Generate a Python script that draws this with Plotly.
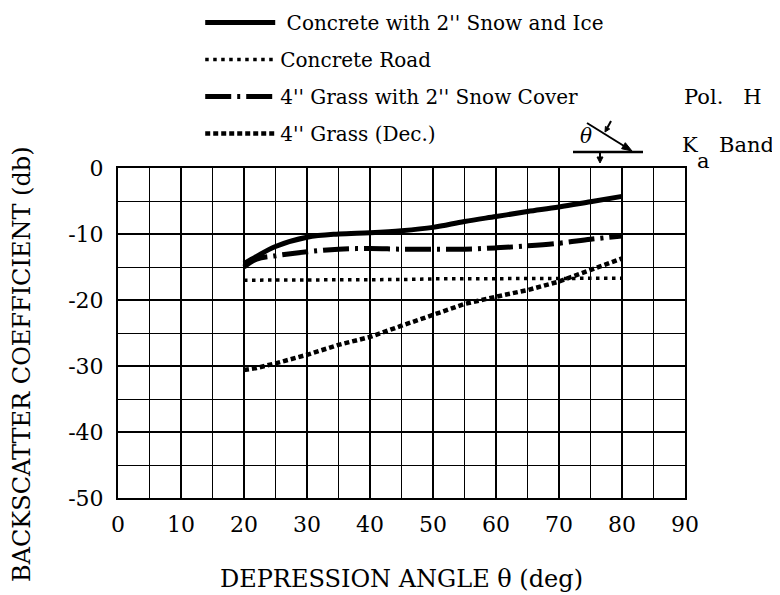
import plotly.graph_objects as go

angle = [20, 22, 25, 30, 35, 40, 45, 50, 55, 60, 65, 70, 75, 80]
concrete_snow_ice = [-14.5, -13.4, -11.9, -10.5, -10.0, -9.8, -9.5, -9.0, -8.1, -7.35, -6.6, -5.9, -5.1, -4.3]
grass_snow_cover = [-15.0, -13.8, -13.3, -12.7, -12.3, -12.2, -12.3, -12.3, -12.3, -12.1, -11.8, -11.4, -10.8, -10.3]
concrete_road = [-17.0, -17.0, -17.0, -17.0, -16.9, -16.9, -16.9, -16.8, -16.8, -16.8, -16.8, -16.8, -16.7, -16.7]
grass_dec = [-30.6, -30.3, -29.6, -28.3, -26.8, -25.6, -23.9, -22.3, -20.6, -19.5, -18.5, -17.2, -15.5, -13.7]

x_ticks = [0, 10, 20, 30, 40, 50, 60, 70, 80, 90]
x_tick_labels = ["0", "10", "20", "30", "40", "50", "60", "70", "80", "90"]
y_ticks = [0, -10, -20, -30, -40, -50]
y_tick_labels = ["0", "-10", "-20", "-30", "-40", "-50"]

FONT = "DejaVu Serif"

# plot area spans screen x 118..685, y 168..498
def px_x(p):
    return (p - 118) / 567

def px_y(p):
    return 1 + (168 - p) / 330

def tri_path(pts):
    s = "M {} {}".format(px_x(pts[0][0]), px_y(pts[0][1]))
    for p in pts[1:]:
        s += " L {} {}".format(px_x(p[0]), px_y(p[1]))
    return s + " Z"

fig = go.Figure()
fig.add_trace(go.Scatter(x=angle, y=concrete_snow_ice, mode="lines", name=" Concrete with 2'' Snow and Ice",
                         line=dict(color="black", width=5, shape="spline"), legendgroup="a"))
fig.add_trace(go.Scatter(x=angle, y=concrete_road, mode="lines", name="Concrete Road",
                         line=dict(color="black", width=3.5, dash="3.5px,4.5px"), legendgroup="b"))
fig.add_trace(go.Scatter(x=angle, y=grass_snow_cover, mode="lines", name="4'' Grass with 2'' Snow Cover",
                         line=dict(color="black", width=5, dash="26px,6px,3px,6px", shape="spline"), legendgroup="c"))
fig.add_trace(go.Scatter(x=angle, y=grass_dec, mode="lines", name="4'' Grass (Dec.)",
                         line=dict(color="black", width=4.5, dash="5px,3px"), legendgroup="d"))

fig.update_layout(
    width=780, height=595,
    margin=dict(l=110, r=103, t=160, b=105, autoexpand=False),
    paper_bgcolor="white", plot_bgcolor="white",
    font=dict(family=FONT, color="black", size=20),
    legend=dict(x=0.145, y=1.5, xanchor="left", yanchor="top", itemwidth=70,
                tracegroupgap=8, font=dict(family=FONT, size=20), bgcolor="rgba(0,0,0,0)"),
    showlegend=True,
)
fig.update_xaxes(range=[0, 90], tickvals=x_ticks, ticktext=x_tick_labels, showgrid=True,
                 gridcolor="black", gridwidth=1.6, minor=dict(dtick=5, showgrid=True, gridcolor="black", gridwidth=1.4),
                 showline=True, linecolor="black", linewidth=2, mirror=True, zeroline=False,
                 ticks="", ticklabelstandoff=6, tickfont=dict(family=FONT, size=22), automargin=False,
                 title=dict(text="DEPRESSION ANGLE \u03b8 (deg)", font=dict(family=FONT, size=24), standoff=34))
fig.update_yaxes(range=[-50, 0], tickvals=y_ticks, ticktext=y_tick_labels, showgrid=True,
                 gridcolor="black", gridwidth=1.6, minor=dict(dtick=5, showgrid=True, gridcolor="black", gridwidth=1.4),
                 showline=True, linecolor="black", linewidth=2, mirror=True, zeroline=False,
                 ticks="", ticklabelstandoff=8, tickfont=dict(family=FONT, size=22), automargin=False)

# y axis title (placed lower than the plot centre, as in the reference)
fig.add_annotation(xref="paper", yref="paper", x=px_x(22), y=px_y(364), text="BACKSCATTER COEFFICIENT (db)",
                   textangle=-90, showarrow=False, xanchor="center", yanchor="middle",
                   font=dict(family=FONT, size=24))

# Pol. H / Ka Band labels
fig.add_annotation(xref="paper", yref="paper", x=px_x(682), y=px_y(97), text="Pol.\u00a0\u00a0\u00a0H",
                   showarrow=False, xanchor="left", yanchor="middle", font=dict(family=FONT, size=21))
fig.add_annotation(xref="paper", yref="paper", x=px_x(680), y=px_y(145), text="K",
                   showarrow=False, xanchor="left", yanchor="middle", font=dict(family=FONT, size=21))
fig.add_annotation(xref="paper", yref="paper", x=px_x(695), y=px_y(161), text="a",
                   showarrow=False, xanchor="left", yanchor="middle", font=dict(family=FONT, size=21))
fig.add_annotation(xref="paper", yref="paper", x=px_x(717), y=px_y(145), text="Band",
                   showarrow=False, xanchor="left", yanchor="middle", font=dict(family=FONT, size=21))
fig.add_annotation(xref="paper", yref="paper", x=px_x(586), y=px_y(136),
                   text="<i>\u03b8</i>", showarrow=False, xanchor="center", yanchor="middle",
                   font=dict(family=FONT, size=20))

# incidence sketch
line_style = dict(color="black", width=2)
fig.add_shape(type="line", xref="paper", yref="paper", x0=px_x(573), x1=px_x(643),
              y0=px_y(152), y1=px_y(152), line=dict(color="black", width=2.5))
fig.add_shape(type="line", xref="paper", yref="paper", x0=px_x(587), y0=px_y(123),
              x1=px_x(624), y1=px_y(146), line=line_style)
fig.add_shape(type="path", xref="paper", yref="paper",
              path=tri_path([(632, 151), (621.6, 148.7), (625.3, 142.7)]),
              fillcolor="black", line=dict(color="black", width=1))
fig.add_shape(type="line", xref="paper", yref="paper", x0=px_x(611), y0=px_y(121),
              x1=px_x(607.5), y1=px_y(127.5), line=line_style)
fig.add_shape(type="path", xref="paper", yref="paper",
              path=tri_path([(605, 132), (609.7, 129), (605.4, 126.4)]),
              fillcolor="black", line=dict(color="black", width=1))
fig.add_shape(type="line", xref="paper", yref="paper", x0=px_x(600), y0=px_y(152),
              x1=px_x(600), y1=px_y(158), line=line_style)
fig.add_shape(type="path", xref="paper", yref="paper",
              path=tri_path([(600, 163), (597, 157), (603, 157)]),
              fillcolor="black", line=dict(color="black", width=1))

fig.write_html("out.html")
